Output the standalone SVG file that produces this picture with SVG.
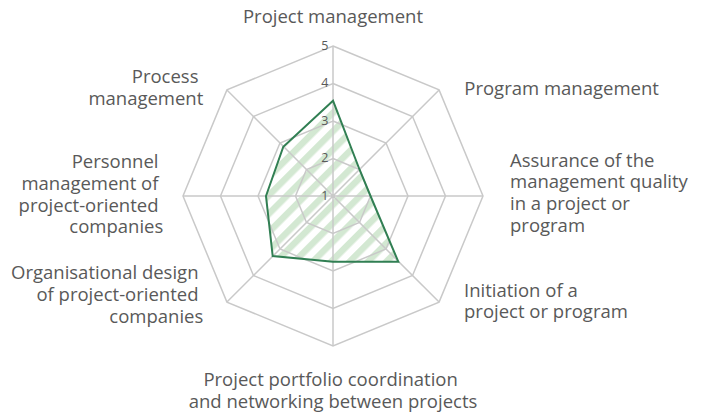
<svg xmlns="http://www.w3.org/2000/svg" width="703" height="415" viewBox="0 0 703 415">
<style>
.grid{fill:none;stroke:#c9c9c9;stroke-width:1.5}
.lbl{font-family:"Open Sans","Noto Sans",sans-serif;font-size:18.5px;fill:#595959}
.tick{font-family:"Open Sans","Noto Sans",sans-serif;font-size:12.5px;fill:#595959;text-anchor:end}
.data{fill:none;stroke:#317f53;stroke-width:2;stroke-linejoin:miter}
</style>
<defs>
<pattern id="hatch" patternUnits="userSpaceOnUse" width="13" height="13" patternTransform="rotate(45)">
<rect x="0" y="0" width="6.5" height="13" fill="#d3e8d2"/>
</pattern>
</defs>
<rect width="703" height="415" fill="#ffffff"/>
<g id="series-fill">
<polygon points="333,100.7 359.5,169.5 370.5,196 398.3,261.7 333,261.7 272.7,256 266,196 283.3,146.7" fill="url(#hatch)"/>
</g>
<g id="grid">
<polygon class="grid" points="333,46 439.07,89.93 483,196 439.07,302.07 333,346 226.93,302.07 183,196 226.93,89.93"/>
<polygon class="grid" points="333,83.5 412.55,116.45 445.5,196 412.55,275.55 333,308.5 253.45,275.55 220.5,196 253.45,116.45"/>
<polygon class="grid" points="333,121 386.03,142.97 408,196 386.03,249.03 333,271 279.97,249.03 258,196 279.97,142.97"/>
<polygon class="grid" points="333,158.5 359.52,169.48 370.5,196 359.52,222.52 333,233.5 306.48,222.52 295.5,196 306.48,169.48"/>
<path class="grid" d="M333,196V46M333,196L439.07,89.93M333,196H483M333,196L439.07,302.07M333,196V346M333,196L226.93,302.07M333,196H183M333,196L226.93,89.93"/>
</g>
<g id="series-line">
<polygon class="data" points="333,100.7 359.5,169.5 370.5,196 398.3,261.7 333,261.7 272.7,256 266,196 283.3,146.7"/>
</g>
<g id="ticks">
<text class="tick" x="328.5" y="199.5">1</text>
<text class="tick" x="328.5" y="162">2</text>
<text class="tick" x="328.5" y="124.5">3</text>
<text class="tick" x="328.5" y="87">4</text>
<text class="tick" x="328.5" y="49.5">5</text>
</g>
<g id="label-n"><text class="lbl" x="333" y="23.3" text-anchor="middle">Project management</text></g>
<g id="label-ne"><text class="lbl" x="464.3" y="95">Program management</text></g>
<g id="label-e"><text class="lbl" x="510">
<tspan x="510" y="166.7">Assurance of the</tspan>
<tspan x="510" y="188.4">management quality</tspan>
<tspan x="510" y="210.1">in a project or</tspan>
<tspan x="510" y="231.8">program</tspan></text></g>
<g id="label-se"><text class="lbl">
<tspan x="464" y="296.7">Initiation of a</tspan>
<tspan x="464" y="318.4">project or program</tspan></text></g>
<g id="label-s"><text class="lbl" text-anchor="middle">
<tspan x="333" y="385.7">Project portfolio coordination</tspan>
<tspan x="333" y="408.4">and networking between projects</tspan></text></g>
<g id="label-sw"><text class="lbl" text-anchor="end">
<tspan x="203.3" y="279.3">Organisational design</tspan>
<tspan x="203.3" y="301">of project-oriented</tspan>
<tspan x="203.3" y="322.7">companies</tspan></text></g>
<g id="label-w"><text class="lbl" text-anchor="end">
<tspan x="163.3" y="168.3">Personnel</tspan>
<tspan x="163.3" y="190">management of</tspan>
<tspan x="163.3" y="211.7">project-oriented</tspan>
<tspan x="163.3" y="233.4">companies</tspan></text></g>
<g id="label-nw"><text class="lbl" text-anchor="end">
<tspan x="203.3" y="83.3">Process</tspan>
<tspan x="203.3" y="105">management</tspan></text></g>
</svg>
